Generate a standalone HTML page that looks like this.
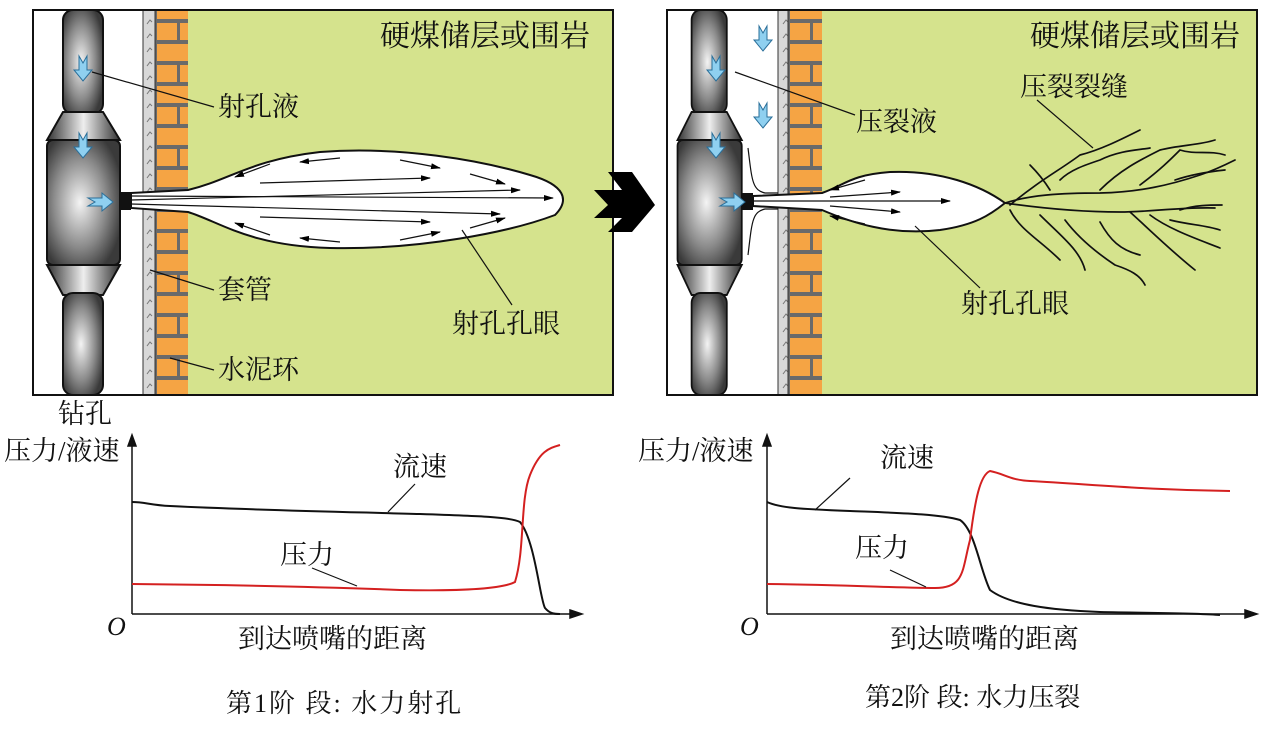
<!DOCTYPE html>
<html><head><meta charset="utf-8"><style>
html,body{margin:0;padding:0;background:#fff;}
svg{display:block;font-family:"Liberation Serif","Noto Serif CJK SC","Noto Sans CJK SC",serif;}
</style></head><body>
<svg width="1278" height="730" viewBox="0 0 1278 730" xmlns="http://www.w3.org/2000/svg">
<defs>
<radialGradient id="g" cx="0.45" cy="0.5" r="0.6"><stop offset="0" stop-color="#f4f4f4"/><stop offset="0.6" stop-color="#8a8a8a"/><stop offset="1" stop-color="#3a3a3a"/></radialGradient>
<linearGradient id="gc" x1="0" x2="1"><stop offset="0" stop-color="#333"/><stop offset="0.5" stop-color="#eee"/><stop offset="1" stop-color="#333"/></linearGradient>
<pattern id="brick" width="40" height="42" patternUnits="userSpaceOnUse">
<rect width="40" height="42" fill="#6a6a6a"/>
<rect x="2" y="2" width="38" height="17" fill="#f5a444"/>
<rect x="2" y="23" width="20" height="17" fill="#f5a444"/>
<rect x="25" y="23" width="15" height="17" fill="#f5a444"/>
</pattern>
<pattern id="casing" width="12" height="14" patternUnits="userSpaceOnUse">
<rect width="12" height="14" fill="#d8d8d8"/><path d="M3 10 L6 6 L8 8" stroke="#777" fill="none" stroke-width="1"/>
</pattern>
<g id="tool">
<rect x="63" y="10" width="40" height="104" rx="10" fill="url(#g)" stroke="#111" stroke-width="2"/>
<polygon points="63,112 103,112 120,140 47,140" fill="url(#gc)" stroke="#111" stroke-width="2"/>
<rect x="47" y="140" width="73" height="125" rx="6" fill="url(#g)" stroke="#111" stroke-width="2"/>
<polygon points="47,265 120,265 103,295 63,295" fill="url(#gc)" stroke="#111" stroke-width="2"/>
<rect x="63" y="293" width="40" height="102" rx="10" fill="url(#g)" stroke="#111" stroke-width="2"/>
</g>
<g id="dn"><path d="M-4 -12 L0 -5 L4 -12 L4 2 L9 2 L0 13 L-9 2 L-4 2 Z" fill="#8fd0f0" stroke="#2a6f9a" stroke-width="1"/></g>
<g id="rt"><path d="M-12 -4 L-5 0 L-12 4 L2 4 L2 9 L13 0 L2 -9 L2 -4 Z" fill="#8fd0f0" stroke="#2a6f9a" stroke-width="1"/></g>
<marker id="ah" markerWidth="10" markerHeight="8" refX="9" refY="4" orient="auto" markerUnits="userSpaceOnUse"><path d="M0 1 L10 4 L0 7 Z" fill="#000"/></marker>
</defs>

<!-- Panel 1 -->
<rect x="33" y="10" width="580" height="385" fill="#fff"/>
<rect x="188" y="10" width="425" height="385" fill="#d5e38d"/>
<g transform="translate(155,0)"><rect x="0" y="10" width="33" height="385" fill="url(#brick)"/></g>
<rect x="143" y="10" width="12" height="385" fill="url(#casing)" stroke="#333" stroke-width="1"/>
<use href="#tool"/>
<rect x="120" y="192" width="11" height="18" fill="#111"/>
<path d="M131 193 L188 190 C230 180 250 160 320 152 C400 146 480 160 530 175 C565 185 570 200 555 215 C510 232 420 250 330 248 C250 246 220 222 188 212 L131 208 Z" fill="#fff" stroke="#111" stroke-width="2"/>
<g stroke="#111" stroke-width="1.2" fill="none">
<line x1="131" y1="196" x2="553" y2="198" marker-end="url(#ah)"/>
<line x1="131" y1="200" x2="520" y2="190" marker-end="url(#ah)"/>
<line x1="131" y1="204" x2="500" y2="214" marker-end="url(#ah)"/>
<line x1="260" y1="183" x2="430" y2="178" marker-end="url(#ah)"/>
<line x1="260" y1="217" x2="430" y2="222" marker-end="url(#ah)"/>
<path d="M270 164 L235 177" marker-end="url(#ah)"/><path d="M340 158 L300 162" marker-end="url(#ah)"/>
<path d="M400 160 L440 168" marker-end="url(#ah)"/><path d="M470 174 L505 184" marker-end="url(#ah)"/>
<path d="M270 235 L235 223" marker-end="url(#ah)"/><path d="M340 242 L300 238" marker-end="url(#ah)"/>
<path d="M400 240 L440 232" marker-end="url(#ah)"/><path d="M470 228 L505 218" marker-end="url(#ah)"/>
</g>
<use href="#dn" x="83" y="68"/><use href="#dn" x="83" y="145"/><use href="#rt" x="100" y="202"/>
<rect x="33" y="10" width="580" height="385" fill="none" stroke="#111" stroke-width="2"/>
<g stroke="#111" stroke-width="1.2">
<line x1="92" y1="72" x2="214" y2="107"/>
<line x1="150" y1="270" x2="214" y2="290"/>
<line x1="170" y1="358" x2="214" y2="370"/>
<line x1="462" y1="230" x2="512" y2="305"/>
</g>
<g font-size="27" fill="#111">
<text x="380" y="46" font-size="30">硬煤储层或围岩</text>
<text x="218" y="116">射孔液</text>
<text x="218" y="299">套管</text>
<text x="218" y="379">水泥环</text>
<text x="452" y="333">射孔孔眼</text>
<text x="58" y="423">钻孔</text>
</g>

<!-- Big arrow -->
<path d="M594 190 L622 190 L608 172 L632 172 L655 205 L632 232 L608 232 L622 218 L594 218 L608 205 Z" fill="#000"/>

<!-- Panel 2 -->
<rect x="667" y="10" width="590" height="385" fill="#fff"/>
<rect x="822" y="10" width="435" height="385" fill="#d5e38d"/>
<g transform="translate(788,0)"><rect x="0" y="10" width="34" height="385" fill="url(#brick)"/></g>
<rect x="778" y="10" width="10" height="385" fill="url(#casing)" stroke="#333" stroke-width="1"/>
<g transform="translate(630,0) scale(0.88,1) translate(7,0)"><use href="#tool"/></g>
<rect x="742" y="193" width="11" height="17" fill="#111"/>
<path d="M753 196 L822 193 C845 185 850 175 890 172 C940 170 980 185 1005 203 C990 215 975 225 940 230 C890 236 850 222 822 210 L753 206 Z" fill="#fff" stroke="#111" stroke-width="2"/>
<g stroke="#111" stroke-width="1.2" fill="none">
<line x1="753" y1="201" x2="950" y2="201" marker-end="url(#ah)"/>
<line x1="830" y1="197" x2="900" y2="192" marker-end="url(#ah)"/>
<line x1="830" y1="206" x2="900" y2="212" marker-end="url(#ah)"/>
<path d="M865 180 L830 190" marker-end="url(#ah)"/><path d="M865 224 L830 216" marker-end="url(#ah)"/>
<path d="M748 148 C752 180 752 190 765 193 L778 193"/>
<path d="M748 255 C752 222 752 212 765 209 L778 209"/>
</g>
<g stroke="#111" stroke-width="1.7" fill="none" stroke-linecap="round">
<path d="M1005 203 C1030 195 1060 193 1100 193 C1140 192 1170 185 1200 175 C1215 170 1225 165 1235 160"/>
<path d="M1005 203 C1040 208 1080 212 1120 212 C1150 212 1180 207 1215 208"/>
<path d="M1010 205 C1040 180 1060 170 1080 155 C1100 150 1120 140 1140 130"/>
<path d="M1030 165 C1040 175 1045 182 1050 190"/><path d="M1060 180 C1070 170 1085 165 1100 160 C1120 150 1140 150 1150 148"/>
<path d="M1100 190 C1120 170 1140 160 1160 150 C1180 145 1200 145 1215 140"/>
<path d="M1140 185 C1160 170 1170 160 1180 150 C1195 155 1210 150 1225 155"/>
<path d="M1175 180 C1190 175 1205 172 1225 170"/>
<path d="M1010 210 C1020 230 1040 240 1060 260"/><path d="M1040 215 C1060 235 1080 250 1085 270"/>
<path d="M1065 220 C1080 240 1100 255 1115 265 C1130 270 1140 275 1145 285"/>
<path d="M1100 222 C1110 240 1120 250 1140 255"/>
<path d="M1130 212 C1150 230 1170 250 1195 270"/><path d="M1150 215 C1170 230 1200 240 1220 248"/>
<path d="M1170 220 C1190 225 1205 225 1220 230"/><path d="M1180 210 C1195 205 1210 205 1222 205"/>
</g>
<use href="#dn" x="763" y="38"/><use href="#dn" x="716" y="68"/><use href="#dn" x="763" y="115"/><use href="#dn" x="716" y="145"/><use href="#rt" x="732" y="202"/>
<rect x="667" y="10" width="590" height="385" fill="none" stroke="#111" stroke-width="2"/>
<g stroke="#111" stroke-width="1.2">
<line x1="735" y1="72" x2="855" y2="115"/>
<line x1="1037" y1="100" x2="1093" y2="148"/>
<line x1="915" y1="226" x2="980" y2="288"/>
</g>
<g font-size="27" fill="#111">
<text x="1030" y="46" font-size="30">硬煤储层或围岩</text>
<text x="1020" y="96">压裂裂缝</text>
<text x="856" y="131">压裂液</text>
<text x="961" y="313">射孔孔眼</text>
</g>

<!-- Chart 1 -->
<g stroke="#111" stroke-width="1.5" fill="none">
<line x1="132" y1="614" x2="132" y2="442"/><path d="M128 446 L132 435 L136 446 Z" fill="#111"/>
<line x1="132" y1="614" x2="575" y2="614"/><path d="M570 610 L582 614 L570 618 Z" fill="#111"/>
<path d="M132 502 C145 502 150 505 170 506 C250 510 350 512 420 514 C480 516 510 517 520 522 C535 540 540 600 545 608 C550 614 555 614 560 614" stroke-width="2"/>
<path d="M132 584 C250 585 350 588 400 590 C450 591 500 590 515 582 C525 550 520 500 530 475 C540 450 550 448 560 445" stroke="#d42020" stroke-width="2"/>
<line x1="415" y1="484" x2="388" y2="512" stroke-width="1.2"/>
<line x1="312" y1="568" x2="357" y2="586" stroke-width="1.2"/>
</g>
<g font-size="27" fill="#111">
<text x="4" y="460">压力/液速</text>
<text x="393" y="476">流速</text>
<text x="280" y="564">压力</text>
<text x="107" y="635" font-style="italic" font-size="26">O</text>
<text x="238" y="648">到达喷嘴的距离</text>
<text x="226" y="712" font-size="26" letter-spacing="2">第1阶 段: 水力射孔</text>
</g>

<!-- Chart 2 -->
<g stroke="#111" stroke-width="1.5" fill="none">
<line x1="767" y1="614" x2="767" y2="442"/><path d="M763 446 L767 435 L771 446 Z" fill="#111"/>
<line x1="767" y1="614" x2="1250" y2="614"/><path d="M1245 610 L1257 614 L1245 618 Z" fill="#111"/>
<path d="M767 502 C780 508 800 509 850 511 C900 513 940 514 960 520 C975 530 980 570 990 590 C1010 605 1050 610 1100 612 C1150 613 1200 613 1220 615" stroke-width="2"/>
<path d="M767 584 C850 585 900 588 935 588 C965 588 962 570 970 540 C975 500 980 475 990 471 C1005 474 1010 480 1030 481 C1100 485 1150 490 1230 491" stroke="#d42020" stroke-width="2"/>
<line x1="850" y1="478" x2="815" y2="510" stroke-width="1.2"/>
<line x1="840" y1="570" x2="876" y2="587" stroke-width="1.2" transform="translate(50,0)"/>
</g>
<g font-size="27" fill="#111">
<text x="638" y="460">压力/液速</text>
<text x="880" y="467">流速</text>
<text x="855" y="557">压力</text>
<text x="740" y="635" font-style="italic" font-size="26">O</text>
<text x="890" y="648">到达喷嘴的距离</text>
<text x="865" y="706" font-size="26">第2阶 段: 水力压裂</text>
</g>
</svg>
</body></html>
